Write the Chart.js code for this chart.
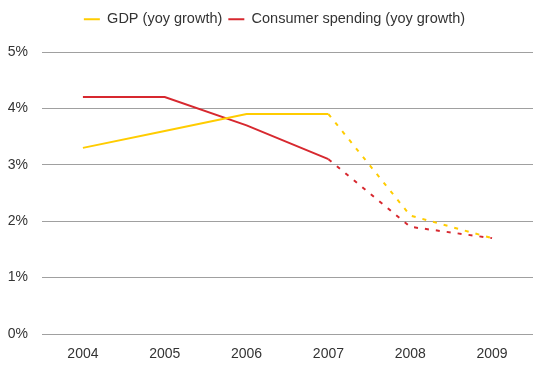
<!DOCTYPE html>
<html>
<head>
<meta charset="utf-8">
<script src="https://cdn.jsdelivr.net/npm/chart.js@4/dist/chart.umd.min.js"></script>
<style>
    html, body { margin: 0; padding: 0; background: #fff; }
    #wrap { width: 533px; height: 367px; }
</style>
</head>
<body>
<div id="wrap"><canvas id="growthChart"></canvas></div>
<script>
const years = ['2004', '2005', '2006', '2007', '2008', '2009'];
const gdpGrowth = [3.3, 3.6, 3.9, 3.9, 2.1, 1.7];
const consumerGrowth = [4.2, 4.2, 3.7, 3.1, 1.9, 1.7];
const forecastFrom = 3; // segments after 2007 are dashed

const dashAfter = ctx => ctx.p0DataIndex >= forecastFrom ? [4, 7] : undefined;

Chart.defaults.font.family = '"Liberation Sans", Arial, sans-serif';
Chart.defaults.font.size = 14;
Chart.defaults.color = '#333';

// taller legend box so the plot starts lower, and nudge it a bit right
const legendSpace = {
    id: 'legendSpace',
    beforeInit(chart) {
        const fit = chart.legend.fit;
        chart.legend.fit = function() {
            fit.bind(chart.legend)();
            this.height = 46;
        };
    },
    afterLayout(chart) {
        chart.legend.left += 8;
        chart.legend.right += 8;
    }
};

new Chart(document.getElementById('growthChart'), {
    type: 'line',
    data: {
        labels: years,
        datasets: [
            {
                label: 'GDP (yoy growth)',
                data: gdpGrowth,
                borderColor: '#FFCC00',
                backgroundColor: '#FFCC00',
                borderWidth: 2,
                pointRadius: 0,
                tension: 0,
                segment: { borderDash: dashAfter }
            },
            {
                label: 'Consumer spending (yoy growth)',
                data: consumerGrowth,
                borderColor: '#D7282F',
                backgroundColor: '#D7282F',
                borderWidth: 2,
                pointRadius: 0,
                tension: 0,
                segment: { borderDash: dashAfter }
            }
        ]
    },
    options: {
        responsive: true,
        maintainAspectRatio: false,
        animation: false,
        layout: { padding: { left: 0, right: 0, top: 6, bottom: 0 } },
        plugins: {
            legend: {
                position: 'top',
                labels: {
                    usePointStyle: true,
                    pointStyle: 'line',
                    pointStyleWidth: 16,
                    padding: 6,
                    color: '#333',
                    font: { size: 14.5 }
                }
            },
            tooltip: { enabled: false }
        },
        scales: {
            x: {
                offset: true,
                grid: { display: false, drawTicks: false },
                border: { display: false },
                ticks: { padding: 12, color: '#333' },
                afterFit: scale => { scale.height = 33; }
            },
            y: {
                min: 0,
                max: 5,
                ticks: {
                    stepSize: 1,
                    padding: 14,
                    color: '#333',
                    callback: v => v + '%'
                },
                grid: { color: '#a0a0a0', lineWidth: 1, drawTicks: false },
                border: { display: false },
                afterFit: scale => { scale.width = 42; }
            }
        }
    },
    plugins: [legendSpace]
});
</script>
</body>
</html>
